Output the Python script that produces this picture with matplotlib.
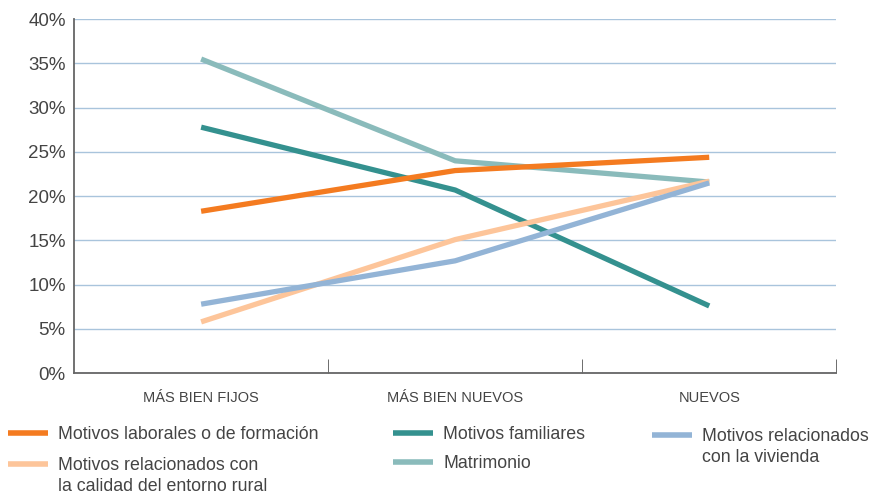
import matplotlib.pyplot as plt
from matplotlib.lines import Line2D
from matplotlib.ticker import FuncFormatter

plt.rcParams['font.family'] = ['Liberation Sans', 'DejaVu Sans']

# categorías del eje x
categorias = ['MÁS BIEN FIJOS', 'MÁS BIEN NUEVOS', 'NUEVOS']

# valores (%)
laborales = [18.3, 22.9, 24.4]
familiares = [27.8, 20.7, 7.6]
matrimonio = [35.5, 24.0, 21.6]
entorno_rural = [5.8, 15.1, 21.7]
vivienda = [7.8, 12.7, 21.5]

series = [
    ('Motivos laborales o de formación', laborales, '#F47B20'),
    ('Motivos familiares', familiares, '#34918F'),
    ('Matrimonio', matrimonio, '#8ABBBB'),
    ('Motivos relacionados con\nla calidad del entorno rural', entorno_rural, '#FDC59A'),
    ('Motivos relacionados\ncon la vivienda', vivienda, '#93B4D6'),
]

fig = plt.figure(figsize=(8.72, 4.93), dpi=100)
ax = fig.add_axes([0.085, 0.243, 0.874, 0.718])

x = list(range(len(categorias)))
# orden de dibujo como en el original
orden = [2, 1, 3, 4, 0]
for i in orden:
    nombre, vals, color = series[i]
    ax.plot(x, vals, color=color, lw=3.8, solid_capstyle='butt', zorder=3)

ax.set_xlim(-0.5, 2.5)
ax.set_ylim(0, 40)
ax.set_yticks(range(0, 41, 5))
ax.yaxis.set_major_formatter(FuncFormatter(lambda v, p: f'{int(v)}%'))
ax.grid(axis='y', color='#A9C4DC', lw=1)
ax.set_axisbelow(True)

ax.set_xticks(x)
ax.set_xticklabels(categorias, fontsize=10.5, color='#444444')
ax.set_xticks([0.5, 1.5, 2.5], minor=True)
ax.tick_params(axis='x', which='major', length=0, pad=13)
ax.tick_params(axis='x', which='minor', direction='in', length=10, color='#555555')
ax.tick_params(axis='y', length=0, labelsize=13.5, labelcolor='#444444', pad=6)

for s in ['top', 'right']:
    ax.spines[s].set_visible(False)
for s in ['left', 'bottom']:
    ax.spines[s].set_color('#666666')
    ax.spines[s].set_linewidth(1.3)

# leyenda manual en tres columnas
H = 493.0
W = 872.0
pos = [
    (8, 433),    # laborales
    (393, 433),  # familiares
    (393, 462),  # matrimonio
    (8, 464),    # entorno rural
    (652, 435),  # vivienda
]
for (nombre, vals, color), (px, py) in zip(series, pos):
    yy = 1 - py / H
    fig.add_artist(Line2D([px / W, (px + 40) / W], [yy, yy], color=color, lw=4,
                          solid_capstyle='butt', transform=fig.transFigure))
    fig.text((px + 50) / W, yy + 0.015, nombre, fontsize=12.8, color='#444444',
             va='top', ha='left', linespacing=1.3,
             transform=fig.transFigure)

fig.savefig('out.png', dpi=100)
